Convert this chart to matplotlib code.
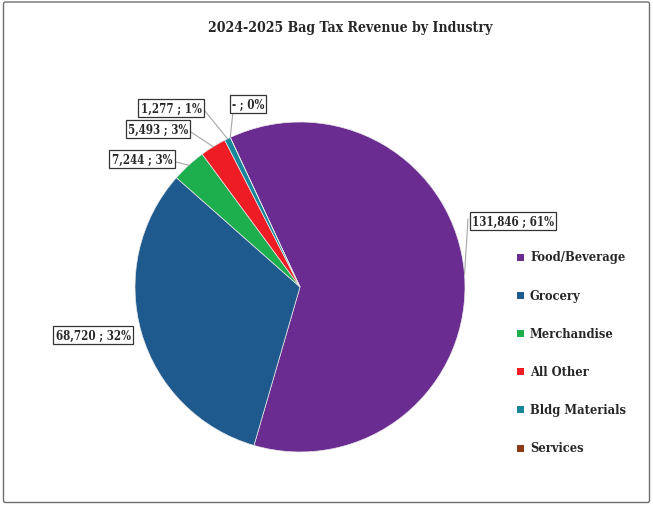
import numpy as np
import matplotlib
matplotlib.use("Agg")
import matplotlib.pyplot as plt
from matplotlib.patches import FancyBboxPatch

# Bag tax revenue by industry, 2024-2025
industries = ["Food/Beverage", "Grocery", "Merchandise", "All Other",
              "Bldg Materials", "Services"]
revenue = [131846, 68720, 7244, 5493, 1277, 0]
colors = ["#6A2C91", "#1F5A8E", "#1DAE4E", "#EE1D25", "#17869A", "#8B3A1A"]
label_text = ["131,846 ; 61%", "68,720 ; 32%", "7,244 ; 3%", "5,493 ; 3%",
              "1,277 ; 1%", "- ; 0%"]

W, H = 653, 506
fig = plt.figure(figsize=(W / 100, H / 100), dpi=100)
ax = fig.add_axes([0, 0, 1, 1])

font = dict(family="DejaVu Serif", fontweight="bold", fontstretch="condensed",
            color="#262626")

cx, cy, r = 300, H - 288, 165
wedges, _ = ax.pie(revenue, colors=colors, startangle=115, counterclock=False,
                   center=(cx, cy), radius=r, frame=True,
                   wedgeprops=dict(edgecolor="#E8E8E8", linewidth=0.5))
ax.set_xlim(0, W)
ax.set_ylim(0, H)
ax.set_aspect("equal")
ax.axis("off")

# outer frame
frame = FancyBboxPatch((3.5, 2.5), W - 7, H - 5.5, boxstyle="round,pad=0,rounding_size=2",
                       fc="none", ec="#6E6E6E", lw=1.0, zorder=0)
ax.add_patch(frame)

ax.text(350, H - 28, "2024-2025 Bag Tax Revenue by Industry", ha="center",
        va="center", fontsize=10.1, **font)

# data label boxes (center positions) and leader line anchor on the box
label_pos = [(513, H - 222), (93, H - 336), (142, H - 160), (158, H - 130),
             (171, H - 109), (248, H - 105)]
leader_from = [(468, H - 220), None, (176, H - 163), (191, H - 133),
               (205, H - 112), (233, H - 112)]

for w, txt, pos, lf in zip(wedges, label_text, label_pos, leader_from):
    ax.text(pos[0], pos[1], txt, ha="center", va="center", fontsize=8.3,
            bbox=dict(boxstyle="square,pad=0.2", fc="white", ec="#333333", lw=0.9),
            zorder=5, **font)
    if lf is not None:
        mid = np.deg2rad((w.theta1 + w.theta2) / 2)
        ex, ey = cx + r * np.cos(mid), cy + r * np.sin(mid)
        ax.plot([lf[0], ex], [lf[1], ey], color="#A6A6A6", lw=0.8, zorder=4)

# legend
for i, (name, c) in enumerate(zip(industries, colors)):
    y = H - (258 + 38.2 * i)
    ax.add_patch(plt.Rectangle((517, y - 3.5), 7, 7, fc=c, ec="none"))
    ax.text(530, y, name, ha="left", va="center", fontsize=9.2, **font)

fig.savefig("out.png", dpi=100)
